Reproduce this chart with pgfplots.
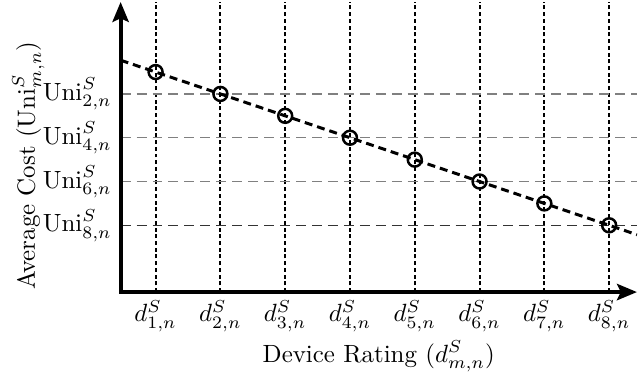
\documentclass[border=0pt]{standalone}
\usepackage{pgfplots}
\pgfplotsset{compat=1.18}
\usetikzlibrary{arrows.meta}
\tikzset{bigarrow/.style={{Stealth[length=8pt,width=6.5pt,inset=1.5pt]}-{Stealth[length=8pt,width=6.5pt,inset=1.5pt]}}}
\begin{document}
\begin{tikzpicture}
\begin{axis}[
  scale only axis,
  width=207.2pt, height=116.4pt,
  xmin=0.46, xmax=8.43, ymin=-1.05, ymax=12.2,
  axis lines=left,
  axis line style={draw=none},
  xtick={1,2,3,4,5,6,7,8},
  xticklabels={$d^S_{1,n}$,$d^S_{2,n}$,$d^S_{3,n}$,$d^S_{4,n}$,$d^S_{5,n}$,$d^S_{6,n}$,$d^S_{7,n}$,$d^S_{8,n}$},
  ytick={2,4,6,8},
  yticklabels={$\mathrm{Uni}^S_{8,n}$,$\mathrm{Uni}^S_{6,n}$,$\mathrm{Uni}^S_{4,n}$,$\mathrm{Uni}^S_{2,n}$},
  major tick length=0pt,
  xmajorgrids,
  x grid style={black, line width=0.8pt, dash pattern=on 1.6pt off 1.1pt},
  xlabel={Device Rating ($d^S_{m,n}$)},
  ylabel={Average Cost ($\mathrm{Uni}^S_{m,n}$)},
  ylabel style={at={(ticklabel cs:0.436)}},
  ylabel shift=-7.5pt,
  xlabel shift=-3pt,
]
\addplot[gray, line width=0.6pt, dash pattern=on 4pt off 2.4pt] coordinates {(0.46,8) (8.43,8)};
\addplot[gray, line width=0.6pt, dash pattern=on 4pt off 2.4pt] coordinates {(0.46,6) (8.43,6)};
\addplot[gray, line width=0.6pt, dash pattern=on 4pt off 2.4pt] coordinates {(0.46,4) (8.43,4)};
\addplot[black!80, line width=0.5pt, dash pattern=on 4pt off 2.4pt] coordinates {(0.46,2) (8.43,2)};
\addplot[black, line width=1.2pt, dash pattern=on 3.2pt off 2pt] coordinates {(0.46,9.54) (8.43,1.57)};
\addplot[only marks, mark=o, mark size=2.8pt, mark options={solid, line width=1pt, black}] coordinates {
(1,9) (2,8) (3,7) (4,6) (5,5) (6,4) (7,3) (8,2)};
\end{axis}
\draw[line width=1.6pt, bigarrow, line join=miter] (current axis.south east) -- (current axis.south west) -- (current axis.north west);
\path (current axis.south west) ++(-48.4pt,-30pt);
\path (current axis.north east) ++(0pt,0.8pt);
\end{tikzpicture}
\end{document}
